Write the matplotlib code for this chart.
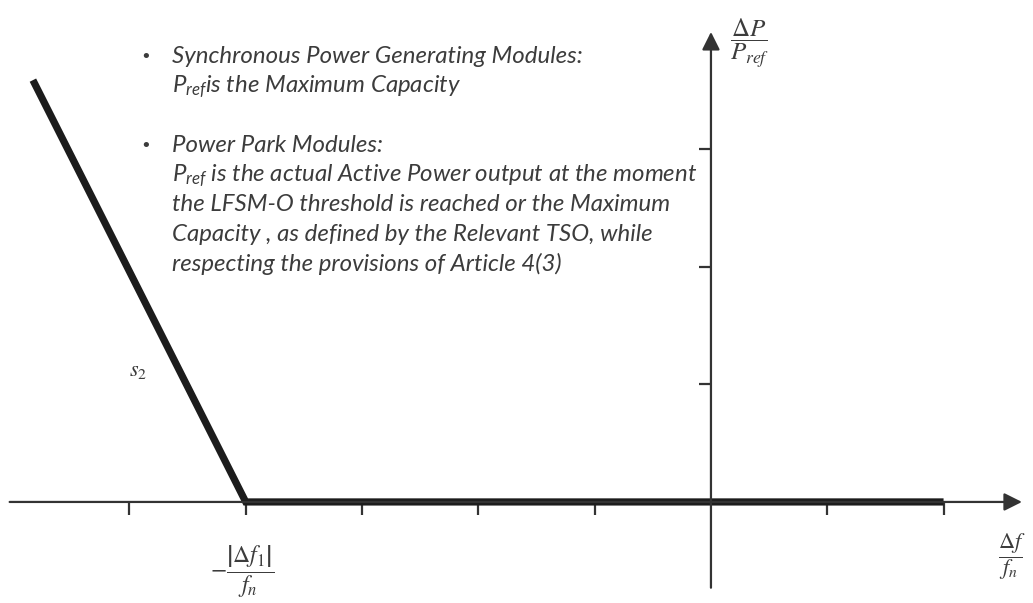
import matplotlib
matplotlib.use("Agg")
import matplotlib.pyplot as plt

# Frequency-sensitive mode (LFSM-O style) characteristic, in tick units
freq_dev = [-5.83, -4.0, 2.0]     # Δf/fn
power_dev = [3.59, 0.0, 0.0]      # ΔP/Pref
x_ticks = [-5, -4, -3, -2, -1, 1, 2]
y_ticks = [1, 2, 3]

bullet_lines = [
    ("Synchronous Power Generating Modules:", True),
    (r"$P_{ref}$is the Maximum Capacity", False),
    ("", False),
    ("Power Park Modules:", True),
    (r"$P_{ref}$ is the actual Active Power output at the moment", False),
    ("the LFSM-O threshold is reached or the Maximum", False),
    ("Capacity , as defined by the Relevant TSO, while", False),
    ("respecting the provisions of Article 4(3)", False),
]

plt.rcParams["mathtext.fontset"] = "custom"
plt.rcParams["mathtext.it"] = "Lato:italic"
plt.rcParams["mathtext.rm"] = "Lato:italic"

axis_col = "#333333"
line_col = "#1c1c1c"
text_col = "#3c3c3c"

fig = plt.figure(figsize=(10.33, 6.03), dpi=100)
ax = fig.add_axes([0, 0, 1, 1])
ax.set_xlim(-6.113, 2.769)
ax.set_ylim(-0.860, 4.272)
ax.axis("off")

# coordinate axes with arrow heads
arrow = dict(arrowstyle="-|>", mutation_scale=27, lw=1.6, color=axis_col,
             shrinkA=0, shrinkB=0)
ax.annotate("", xy=(2.674, 0), xytext=(-6.03, 0), arrowprops=arrow)
ax.annotate("", xy=(0, 4.0), xytext=(0, -0.73), arrowprops=arrow)

# tick marks
ax.vlines(x_ticks, -0.11, 0, color=axis_col, lw=1.6)
ax.hlines(y_ticks, -0.1, 0, color=axis_col, lw=1.6)

# characteristic
ax.plot(freq_dev, power_dev, color=line_col, lw=5.2, solid_joinstyle="miter",
        solid_capstyle="butt")

# explanatory notes
y0 = 4.272 - 57 / 117.5
step = 29.6 / 117.5
for i, (txt, bullet) in enumerate(bullet_lines):
    y = y0 - i * step
    if bullet:
        ax.text(-4.865, y, "•", fontsize=13, color=text_col, va="center",
                ha="center", family="DejaVu Sans")
    if txt:
        ax.text(-4.635, y, txt, fontsize=17.3, style="italic", family="Lato",
                color=text_col, va="center", ha="left", math_fontfamily="custom")

# axis labels
ax.text(0.335, 4.272 - 43 / 117.5, r"$\dfrac{\Delta P}{P_{ref}}$", fontsize=18,
        ha="center", va="center", color=text_col, math_fontfamily="stix")
ax.text(2.59, -55 / 117.5, r"$\dfrac{\Delta f}{f_n}$", fontsize=16,
        ha="center", va="center", color=text_col, math_fontfamily="stix")
ax.text(-4.03, -70 / 117.5, r"$-\dfrac{\left|\Delta f_1\right|}{f_n}$", fontsize=17,
        ha="center", va="center", color=text_col, math_fontfamily="stix")
ax.text(-4.93, 4.272 - 371 / 117.5, r"$s_2$", fontsize=16,
        ha="center", va="center", color=text_col, math_fontfamily="stix")

fig.savefig("out.png", dpi=100)
